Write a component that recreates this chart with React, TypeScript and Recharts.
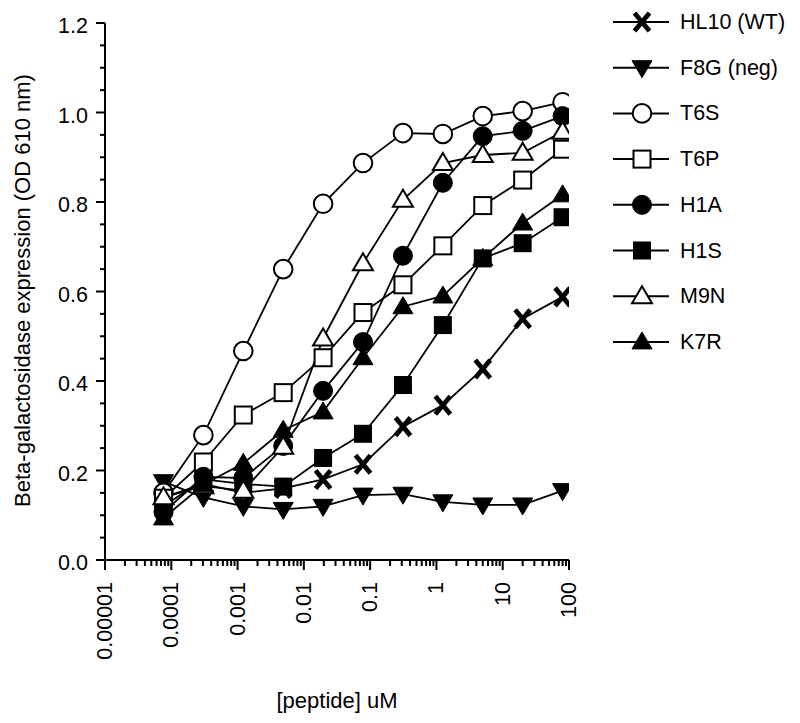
import React from 'react';
import { LineChart, Line, XAxis, YAxis, Legend, Label } from 'recharts';

const FONT = '"Liberation Sans", Arial, sans-serif';

// peptide concentrations (uM), 4-fold dilutions
const conc = [0.0000763, 0.000305, 0.00122, 0.00488, 0.0195, 0.078, 0.3125, 1.25, 5, 20, 80];

const hl10 = [0.14, 0.17, 0.15, 0.16, 0.18, 0.214, 0.298, 0.346, 0.427, 0.539, 0.588];
const f8g = [0.175, 0.14, 0.12, 0.113, 0.12, 0.145, 0.147, 0.13, 0.123, 0.123, 0.155];
const t6s = [0.15, 0.279, 0.467, 0.65, 0.796, 0.887, 0.954, 0.952, 0.992, 1.003, 1.023];
const t6p = [0.138, 0.219, 0.324, 0.374, 0.452, 0.553, 0.615, 0.702, 0.792, 0.849, 0.918];
const h1a = [0.107, 0.186, 0.183, 0.255, 0.378, 0.487, 0.68, 0.843, 0.947, 0.959, 0.992];
const h1s = [0.12, 0.18, 0.17, 0.164, 0.228, 0.282, 0.391, 0.525, 0.674, 0.708, 0.766];
const m9n = [0.14, 0.165, 0.155, 0.253, 0.495, 0.663, 0.805, 0.887, 0.905, 0.91, 0.957];
const k7r = [0.094, 0.168, 0.216, 0.29, 0.331, 0.452, 0.566, 0.59, 0.674, 0.753, 0.816];

const xTickLabels = ['0.00001', '0.0001', '0.001', '0.01', '0.1', '1', '10', '100'];
const yTickLabels = ['0.0', '0.2', '0.4', '0.6', '0.8', '1.0', '1.2'];

const series = [
  { name: 'HL10 (WT)', values: hl10, shape: 'x' },
  { name: 'F8G (neg)', values: f8g, shape: 'triDown' },
  { name: 'T6S', values: t6s, shape: 'circleOpen' },
  { name: 'T6P', values: t6p, shape: 'squareOpen' },
  { name: 'H1A', values: h1a, shape: 'circleFilled' },
  { name: 'H1S', values: h1s, shape: 'squareFilled' },
  { name: 'M9N', values: m9n, shape: 'triOpen' },
  { name: 'K7R', values: k7r, shape: 'triFilled' },
];

// major decades + minor 2..9 ticks
const xMajor = xTickLabels.map(Number);
const xTicks: number[] = [];
xMajor.forEach((d, i) => {
  xTicks.push(d);
  if (i < xMajor.length - 1) for (let m = 2; m <= 9; m++) xTicks.push(d * m);
});
const yTicks: number[] = [];
for (let i = 0; i <= 24; i++) yTicks.push(i * 0.05);

function Marker({ shape, cx, cy }: { shape: string; cx: number; cy: number }) {
  const sw = 2;
  switch (shape) {
    case 'x':
      return (
        <g stroke="#000" strokeWidth={4.8} strokeLinecap="butt">
          <line x1={cx - 7.5} y1={cy - 9} x2={cx + 7.5} y2={cy + 9} />
          <line x1={cx + 7.5} y1={cy - 9} x2={cx - 7.5} y2={cy + 9} />
        </g>
      );
    case 'triDown':
      return <polygon points={`${cx - 10},${cy - 7} ${cx + 10},${cy - 7} ${cx},${cy + 10}`} fill="#000" stroke="#000" strokeWidth={1} />;
    case 'triOpen':
      return <polygon points={`${cx - 10},${cy + 7} ${cx + 10},${cy + 7} ${cx},${cy - 10}`} fill="#fff" stroke="#000" strokeWidth={sw} />;
    case 'triFilled':
      return <polygon points={`${cx - 10},${cy + 7} ${cx + 10},${cy + 7} ${cx},${cy - 10}`} fill="#000" stroke="#000" strokeWidth={1} />;
    case 'circleOpen':
      return <circle cx={cx} cy={cy} r={9.3} fill="#fff" stroke="#000" strokeWidth={sw} />;
    case 'circleFilled':
      return <circle cx={cx} cy={cy} r={9.5} fill="#000" stroke="#000" strokeWidth={1} />;
    case 'squareOpen':
      return <rect x={cx - 8.5} y={cy - 8.5} width={17} height={17} fill="#fff" stroke="#000" strokeWidth={sw} />;
    case 'squareFilled':
      return <rect x={cx - 9} y={cy - 9} width={18} height={18} fill="#000" />;
    default:
      return null;
  }
}

const XTick = (props: any) => {
  const { x, y, payload } = props;
  const idx = xMajor.indexOf(payload.value);
  const major = idx >= 0;
  const ty = y + 22;
  return (
    <g>
      <line x1={x} x2={x} y1={y} y2={y + (major ? 10 : 6)} stroke="#000" strokeWidth={2} />
      {major && (
        <text
          x={x}
          y={ty}
          transform={`rotate(-90 ${x} ${ty})`}
          textAnchor="end"
          dominantBaseline="central"
          fontSize={21.5}
          fontFamily={FONT}
          fill="#000"
        >
          {xTickLabels[idx]}
        </text>
      )}
    </g>
  );
};

const YTick = (props: any) => {
  const { x, y, index } = props;
  const major = index % 4 === 0;
  return (
    <g>
      <line x1={x - (major ? 9 : 5)} x2={x} y1={y} y2={y} stroke="#000" strokeWidth={2} />
      {major && (
        <text x={x - 17} y={y + 3} textAnchor="end" dominantBaseline="central" fontSize={21.5} fontFamily={FONT} fill="#000">
          {yTickLabels[index / 4]}
        </text>
      )}
    </g>
  );
};

const LegendBox = () => (
  <svg width={200} height={370}>
    {series.map((s, i) => {
      const cy = 22 + i * 45.7;
      return (
        <g key={s.name}>
          <line x1={13} x2={69} y1={cy} y2={cy} stroke="#000" strokeWidth={2} />
          <Marker shape={s.shape} cx={42} cy={cy} />
          <text x={80} y={cy} dominantBaseline="central" fontSize={21.5} fontFamily={FONT} fill="#000">
            {s.name}
          </text>
        </g>
      );
    })}
  </svg>
);

export default function App() {
  return (
    <div style={{ position: 'absolute', left: 0, top: 0, background: '#fff' }}>
      <LineChart width={800} height={723} margin={{ top: 23, right: 231, bottom: 0, left: 0 }}>
        <XAxis
          dataKey="x"
          type="number"
          scale="log"
          domain={[0.00001, 100]}
          ticks={xTicks}
          interval={0}
          allowDataOverflow
          height={163}
          tickSize={0}
          tickMargin={0}
          tickLine={false}
          tick={<XTick />}
          axisLine={{ stroke: '#000', strokeWidth: 2 }}
        >
          <Label
            content={(p: any) => {
              const vb = p.viewBox;
              return (
                <text x={vb.x + vb.width / 2} y={700} textAnchor="middle" dominantBaseline="central" fontSize={22} fontFamily={FONT} fill="#000">
                  [peptide] uM
                </text>
              );
            }}
          />
        </XAxis>
        <YAxis
          type="number"
          domain={[0, 1.2]}
          ticks={yTicks}
          interval={0}
          width={105}
          tickSize={0}
          tickMargin={0}
          tickLine={false}
          tick={<YTick />}
          axisLine={{ stroke: '#000', strokeWidth: 2 }}
        >
          <Label
            content={(p: any) => {
              const vb = p.viewBox;
              const cy = vb.y + vb.height / 2 - 1;
              return (
                <text x={22} y={cy} transform={`rotate(-90 22 ${cy})`} textAnchor="middle" dominantBaseline="central" fontSize={22} fontFamily={FONT} fill="#000">
                  Beta-galactosidase expression (OD 610 nm)
                </text>
              );
            }}
          />
        </YAxis>
        <Legend
          layout="vertical"
          align="center"
          verticalAlign="middle"
          content={<LegendBox />}
          wrapperStyle={{ left: 600, top: 0, width: 200 }}
        />
        {series.map((s) => (
          <Line
            key={s.name}
            name={s.name}
            data={conc.map((c, i) => ({ x: c, y: s.values[i] }))}
            dataKey="y"
            stroke="#000"
            strokeWidth={1.8}
            isAnimationActive={false}
            dot={(p: any) => <Marker key={p.index} shape={s.shape} cx={p.cx} cy={p.cy} />}
            activeDot={false}
          />
        ))}
      </LineChart>
    </div>
  );
}
